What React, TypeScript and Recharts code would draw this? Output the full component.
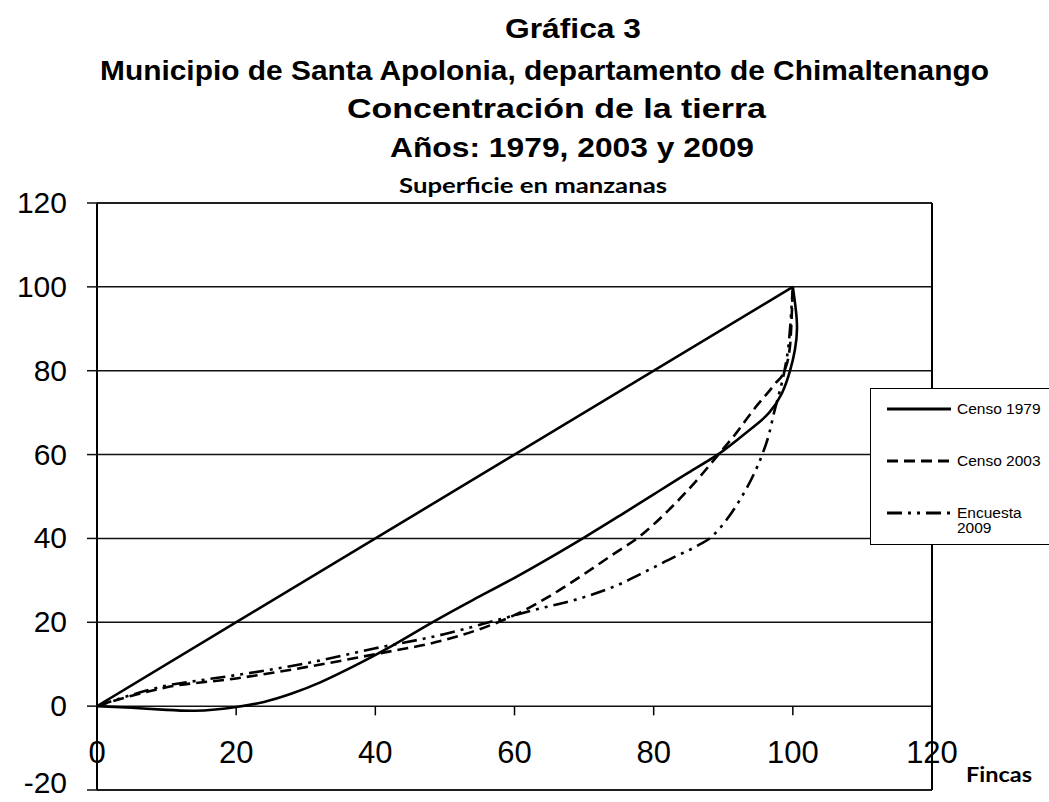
import { LineChart, Line, XAxis, YAxis, CartesianGrid, ReferenceLine, Legend } from 'recharts'

const xTicks = [0, 20, 40, 60, 80, 100, 120]
const yTicks = [-20, 0, 20, 40, 60, 80, 100, 120]
const tickMarks = [20, 40, 60, 80, 100]

// línea de equidistribución
const equidad = [
  { x: 0, y: 0 },
  { x: 100, y: 100 },
]

const censo1979 = [
  { x: 0, y: 0 }, { x: 5, y: -0.4 }, { x: 10, y: -0.9 }, { x: 14, y: -1.1 },
  { x: 17, y: -0.8 }, { x: 20, y: -0.2 }, { x: 24, y: 1 }, { x: 28, y: 3 },
  { x: 32, y: 5.6 }, { x: 37, y: 9.6 }, { x: 42, y: 14 }, { x: 48, y: 19.8 },
  { x: 54, y: 25.3 }, { x: 60, y: 30.6 }, { x: 65, y: 35.3 }, { x: 70, y: 40.2 },
  { x: 75, y: 45.3 }, { x: 80, y: 50.5 }, { x: 85, y: 55.7 }, { x: 89.2, y: 60 },
  { x: 92, y: 63.5 }, { x: 94.5, y: 66.8 }, { x: 96.6, y: 70 }, { x: 98.4, y: 74.5 },
  { x: 99.6, y: 80 }, { x: 100.3, y: 85 }, { x: 100.6, y: 90 }, { x: 100.4, y: 95 },
  { x: 100, y: 100 },
]

const censo2003 = [
  { x: 0, y: 0 }, { x: 5, y: 2.5 }, { x: 10, y: 4.5 }, { x: 20, y: 6.6 },
  { x: 30, y: 9.3 }, { x: 40, y: 12.4 }, { x: 50, y: 15.8 }, { x: 57, y: 19.6 },
  { x: 61, y: 22.5 }, { x: 65, y: 26.2 }, { x: 70, y: 31.5 }, { x: 74, y: 36 },
  { x: 78, y: 40.5 }, { x: 82, y: 46.5 }, { x: 86, y: 53.5 }, { x: 89.3, y: 60 },
  { x: 91.8, y: 65 }, { x: 94.5, y: 71 }, { x: 97.5, y: 77 }, { x: 98.8, y: 80 },
  { x: 99.6, y: 86 }, { x: 100, y: 100 },
]

const encuesta2009 = [
  { x: 0, y: 0 }, { x: 5, y: 2.7 }, { x: 10, y: 4.9 }, { x: 15, y: 6.2 },
  { x: 20, y: 7.4 }, { x: 30, y: 10.2 }, { x: 40, y: 13.8 }, { x: 50, y: 17.2 },
  { x: 57, y: 20.3 }, { x: 63, y: 23 }, { x: 70, y: 26 }, { x: 75, y: 29 },
  { x: 79.3, y: 32.5 }, { x: 83, y: 35.6 }, { x: 86, y: 38 }, { x: 88.4, y: 40.5 },
  { x: 90.5, y: 44.5 }, { x: 92.5, y: 49.5 }, { x: 94.3, y: 55 }, { x: 95.6, y: 60 },
  { x: 96.6, y: 65 }, { x: 97.3, y: 70 }, { x: 98.1, y: 75 }, { x: 98.8, y: 80 },
  { x: 99.5, y: 88 }, { x: 100, y: 100 },
]

const series = [
  { name: 'Censo 1979', dash: undefined },
  { name: 'Censo 2003', dash: '11 6' },
  { name: 'Encuesta 2009', dash: '15 6 3 6 3 6' },
]

const FONT = 'Arial, "Liberation Sans", sans-serif'
const SUB_FONT = 'Lato, "Open Sans", sans-serif'

function XTick({ x, y, payload }: any) {
  return (
    <text x={x} y={y - 27} textAnchor="middle" fontSize={31} fontFamily={FONT} fill="#000">
      {payload.value}
    </text>
  )
}

function YTick({ x, y, payload }: any) {
  // la etiqueta inferior se sube un poco para no salirse del borde
  const dy = payload.value === yTicks[0] ? 3 : 10
  return (
    <text x={x} y={y + dy} textAnchor="end" fontSize={30} fontFamily={FONT} fill="#000">
      {payload.value}
    </text>
  )
}

function LegendBox() {
  const rows = [
    { top: 8, dash: series[0].dash, lines: ['Censo 1979'] },
    { top: 60, dash: series[1].dash, lines: ['Censo 2003'] },
    { top: 112, dash: series[2].dash, lines: ['Encuesta', '2009'] },
  ]
  return (
    <div style={{ position: 'relative', width: 190, height: 157, background: '#fff', border: '1.5px solid #000', boxSizing: 'border-box', fontFamily: FONT }}>
      {rows.map((r, i) => (
        <div key={i} style={{ position: 'absolute', left: 16, top: r.top, display: 'flex', alignItems: 'flex-start' }}>
          <svg width={64} height={24} style={{ display: 'block' }}>
            <line x1={0} y1={12} x2={64} y2={12} stroke="#000" strokeWidth={3} strokeDasharray={r.dash} />
          </svg>
          <div style={{ marginLeft: 6, fontSize: 15.5, lineHeight: '15px', paddingTop: 4, color: '#000' }}>
            {r.lines.map((t, j) => <div key={j}>{t}</div>)}
          </div>
        </div>
      ))}
    </div>
  )
}

export default function App() {
  return (
    <div style={{ position: 'absolute', left: 0, top: 0, width: 1049, height: 802, overflow: 'hidden', background: '#fff' }}>
      <LineChart width={1049} height={802} margin={{ top: 203, right: 117, bottom: 0, left: 0 }}>
        <CartesianGrid vertical={false} stroke="#111" strokeWidth={1.5} />
        <XAxis
          type="number"
          dataKey="x"
          domain={[0, 120]}
          ticks={xTicks}
          allowDataOverflow
          axisLine={false}
          tickLine={false}
          tickSize={0}
          tickMargin={0}
          height={12}
          interval={0}
          tick={(props: any) => <XTick {...props} />}
        />
        <YAxis
          type="number"
          domain={[-20, 120]}
          ticks={yTicks}
          interval={0}
          width={97}
          axisLine={{ stroke: '#000', strokeWidth: 2 }}
          tickLine={{ stroke: '#111', strokeWidth: 1.5 }}
          tickSize={10}
          tickMargin={20}
          tick={(props: any) => <YTick {...props} />}
        />
        <ReferenceLine x={120} stroke="#000" strokeWidth={2} />
        <ReferenceLine y={120} stroke="#111" strokeWidth={1.5} />
        <ReferenceLine y={-20} stroke="#111" strokeWidth={1.5} />
        {tickMarks.map(t => (
          <ReferenceLine key={t} segment={[{ x: t, y: 0 }, { x: t, y: -2.2 }]} stroke="#000" strokeWidth={1.5} />
        ))}
        <Line data={equidad} dataKey="y" type="linear" stroke="#000" strokeWidth={2.6} dot={false} isAnimationActive={false} legendType="none" />
        <Line data={censo1979} dataKey="y" name={series[0].name} type="natural" stroke="#000" strokeWidth={2.6} dot={false} isAnimationActive={false} />
        <Line data={censo2003} dataKey="y" name={series[1].name} type="monotone" stroke="#000" strokeWidth={2.6} strokeDasharray={series[1].dash} dot={false} isAnimationActive={false} />
        <Line data={encuesta2009} dataKey="y" name={series[2].name} type="monotone" stroke="#000" strokeWidth={2.6} strokeDasharray={series[2].dash} dot={false} isAnimationActive={false} />
        <Legend
          layout="horizontal"
          verticalAlign="middle"
          align="center"
          content={<LegendBox />}
          wrapperStyle={{ left: 870, top: 388, width: 190, height: 157 }}
        />
      </LineChart>
      <svg width={1049} height={802} style={{ position: 'absolute', left: 0, top: 0, pointerEvents: 'none' }}>
        <g fontFamily={FONT} fontWeight="bold" fontSize={28} fill="#000">
          <text x={505} y={38} textLength={136} lengthAdjust="spacingAndGlyphs">Gráfica 3</text>
          <text x={100} y={80} textLength={889} lengthAdjust="spacingAndGlyphs">Municipio de Santa Apolonia, departamento de Chimaltenango</text>
          <text x={347} y={118} textLength={419} lengthAdjust="spacingAndGlyphs">Concentración de la tierra</text>
          <text x={390} y={157} textLength={364} lengthAdjust="spacingAndGlyphs">Años: 1979, 2003 y 2009</text>
        </g>
        <text x={399} y={193} textLength={268} lengthAdjust="spacingAndGlyphs" fontFamily={SUB_FONT} fontWeight="bold" fontSize={20} fill="#000">
          Superficie en manzanas
        </text>
        <text x={966} y={782} textLength={66} lengthAdjust="spacingAndGlyphs" fontFamily={SUB_FONT} fontWeight="bold" fontSize={21} fill="#000">
          Fincas
        </text>
      </svg>
    </div>
  )
}
